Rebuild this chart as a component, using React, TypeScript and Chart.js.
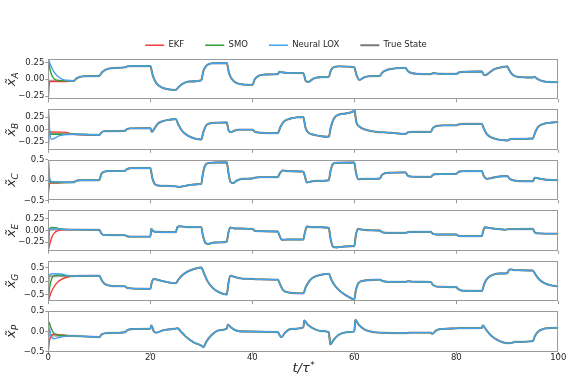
import { useEffect, useRef } from 'react';
import { Chart, registerables } from 'chart.js';

Chart.register(...registerables);

type Pt = [number, number];

// ---- series ----
const seriesNames = ['EKF', 'SMO', 'Neural LOX', 'True State'];
const seriesColors = ['#f43c3c', '#2f9f2f', '#45a2f2', 'rgba(115,115,115,0.6)'];
const legendColors = ['#f43c3c', '#2f9f2f', '#45a2f2', '#7a7a7a'];

// ---- axes ----
const xTicks = [0, 20, 40, 60, 80, 100];
const quarterTicks = [-0.25, 0, 0.25];
const halfTicks = [-0.5, 0, 0.5];
const limA = 0.3;
const limB = 0.4;
const limC = 0.5;
const limE = 0.43;
const limG = 0.75;
const limP = 0.5;

// ---- true state trajectories [t, value] ----
const trueA: Pt[] = [
  [0, -0.025], [5, -0.025], [5.5, 0.01], [6.2, 0.035], [7.5, 0.045], [10, 0.05],
  [10.5, 0.1], [11.2, 0.14], [12.5, 0.165], [15, 0.175], [15.5, 0.19], [16.5, 0.195], [20, 0.195],
  [20.5, 0.05], [21.2, -0.06], [22.5, -0.13], [24, -0.155], [25, -0.16],
  [25.5, -0.12], [26.3, -0.07], [27.5, -0.035], [30, -0.015],
  [30.4, 0.12], [31, 0.2], [32, 0.235], [35, 0.24],
  [35.4, 0.1], [36, 0.0], [37, -0.06], [38.5, -0.08], [40, -0.085],
  [40.5, 0.0], [41.2, 0.05], [42.5, 0.07], [45, 0.075],
  [45.3, 0.11], [46, 0.1], [47, 0.092], [50, 0.09],
  [50.5, -0.03], [51, -0.04], [52, 0.01], [53.5, 0.03], [55, 0.035],
  [55.4, 0.13], [56, 0.18], [57, 0.19], [60, 0.175],
  [60.4, 0.07], [61, -0.01], [62, 0.03], [63.5, 0.045], [65, 0.05],
  [65.5, 0.1], [66.5, 0.14], [68, 0.16], [70, 0.17],
  [70.5, 0.12], [71.3, 0.09], [72.5, 0.08], [75, 0.075],
  [75.4, 0.09], [76.5, 0.082], [80, 0.078],
  [80.5, 0.1], [81.5, 0.11], [85, 0.115],
  [85.3, 0.075], [85.7, 0.06], [86.5, 0.1], [87.5, 0.15], [89, 0.18], [90, 0.19],
  [90.4, 0.13], [91, 0.07], [92, 0.035], [95, 0.025],
  [95.3, 0.035], [96, 0.0], [97, -0.03], [98.5, -0.042], [100, -0.045],
];

const trueB: Pt[] = [
  [0, -0.08], [5, -0.09], [10, -0.105],
  [10.4, -0.06], [11, -0.03], [15, -0.025],
  [15.4, 0.01], [16.2, 0.025], [20, 0.03],
  [20.3, -0.045], [20.8, 0.02], [21.5, 0.12], [22.5, 0.17], [24, 0.2], [25, 0.21],
  [25.5, 0.1], [26.2, -0.02], [27.2, -0.11], [28.5, -0.17], [30, -0.195],
  [30.4, -0.05], [31, 0.09], [32, 0.13], [35, 0.145],
  [35.3, 0.0], [35.8, -0.05], [36.5, -0.02], [37.5, 0.0], [40, 0.0],
  [40.5, -0.04], [41.5, -0.06], [45, -0.07],
  [45.5, 0.05], [46.2, 0.16], [47.5, 0.22], [50, 0.25],
  [50.4, 0.05], [50.8, -0.04], [52, -0.1], [53.5, -0.13], [55, -0.14],
  [55.4, 0.05], [56, 0.22], [57, 0.3], [59.8, 0.36], [60, 0.4],
  [60.4, 0.15], [61, 0.06], [62.5, -0.01], [64, -0.04], [67, -0.06], [70, -0.085],
  [70.5, -0.055], [71.5, -0.045], [75, -0.045],
  [75.4, 0.03], [76, 0.07], [77.5, 0.085], [80, 0.085],
  [80.5, 0.105], [81.5, 0.115], [85, 0.115],
  [85.4, 0.02], [86, -0.09], [87, -0.16], [88.5, -0.2], [90, -0.215],
  [90.5, -0.19], [91.5, -0.18], [95, -0.175],
  [95.4, -0.07], [96, 0.05], [97, 0.11], [98.5, 0.14], [100, 0.15],
];

const trueC: Pt[] = [
  [0, -0.05], [5, -0.055], [5.4, -0.02], [6.2, -0.005], [10, 0.0],
  [10.4, 0.15], [11, 0.21], [12, 0.225], [15, 0.23],
  [15.4, 0.27], [16.2, 0.295], [20, 0.3],
  [20.4, 0.05], [21, -0.11], [22, -0.14], [25, -0.155],
  [25.5, -0.17], [27, -0.14], [28.5, -0.11], [30, -0.09],
  [30.3, 0.15], [30.7, 0.35], [31.3, 0.42], [35, 0.44],
  [35.3, 0.2], [35.7, -0.04], [36.2, -0.075], [37, -0.01], [38, 0.03], [40, 0.04],
  [40.5, 0.06], [41.5, 0.07], [45, 0.075],
  [45.4, 0.17], [46, 0.24], [47, 0.22], [50, 0.21],
  [50.3, 0.1], [50.7, -0.06], [51.3, -0.04], [52.5, -0.02], [55, -0.005],
  [55.3, 0.2], [55.7, 0.38], [56.3, 0.43], [60, 0.435],
  [60.3, 0.2], [60.8, 0.02], [61.5, 0.03], [65, 0.04],
  [65.4, 0.12], [66, 0.17], [67.5, 0.185], [70, 0.19],
  [70.5, 0.11], [71.2, 0.085], [75, 0.08],
  [75.4, 0.13], [76.2, 0.15], [80, 0.155],
  [80.4, 0.2], [81.2, 0.22], [85, 0.225],
  [85.4, 0.1], [86, 0.03], [86.8, 0.05], [88.5, 0.09], [90, 0.1],
  [90.5, 0.03], [91.3, -0.01], [92.5, -0.025], [95, -0.03],
  [95.4, 0.06], [96, 0.045], [97.5, 0.01], [100, 0.0],
];

const trueE: Pt[] = [
  [0, 0.02], [5, 0.02], [10, 0.015],
  [10.4, -0.06], [11, -0.095], [15, -0.1],
  [15.4, -0.12], [16, -0.13], [20, -0.13],
  [20.2, 0.035], [20.6, -0.015], [21.5, -0.03], [25, -0.035],
  [25.3, 0.07], [25.8, 0.09], [27, 0.075], [30, 0.07],
  [30.3, -0.1], [30.8, -0.26], [31.3, -0.285], [32.5, -0.255], [35, -0.235],
  [35.3, -0.05], [35.7, 0.065], [36.5, 0.045], [40, 0.035],
  [40.4, 0.0], [41, -0.015], [45, -0.02],
  [45.3, -0.1], [45.8, -0.195], [47, -0.19], [50, -0.19],
  [50.3, -0.05], [50.7, 0.085], [51.5, 0.075], [55, 0.06],
  [55.3, -0.15], [55.8, -0.34], [56.5, -0.36], [58, -0.34], [60, -0.33],
  [60.3, -0.1], [60.7, 0.035], [61.5, 0.02], [63, 0.005], [65, 0.0],
  [65.5, -0.04], [66.5, -0.05], [70, -0.05],
  [70.5, -0.035], [71.5, -0.03], [75, -0.028],
  [75.4, -0.07], [76.2, -0.085], [80, -0.085],
  [80.4, -0.11], [81.2, -0.12], [85, -0.12],
  [85.3, 0.0], [85.6, 0.07], [86.5, 0.055], [89.5, 0.02], [90.5, 0.03], [95, 0.035],
  [95.4, -0.04], [96, -0.06], [100, -0.065],
];

const trueG: Pt[] = [
  [0, 0.18], [5, 0.18], [6, 0.19], [10, 0.2],
  [10.4, 0.05], [11, -0.1], [12, -0.17], [13.5, -0.195], [15, -0.2],
  [15.4, -0.25], [16.2, -0.275], [20, -0.29],
  [20.3, -0.05], [20.7, 0.08], [21.5, 0.04], [23, -0.03], [25, -0.08],
  [25.5, 0.05], [26.3, 0.22], [27.3, 0.35], [28.5, 0.44], [30, 0.5],
  [30.5, 0.3], [31.2, 0.0], [32.2, -0.25], [33.5, -0.42], [35, -0.5],
  [35.3, -0.1], [35.7, 0.2], [36.5, 0.15], [38, 0.09], [40, 0.08],
  [41, 0.06], [45, 0.05],
  [45.4, -0.1], [46, -0.33], [47, -0.42], [50, -0.46],
  [50.5, -0.22], [51.2, 0.0], [52, 0.14], [53.5, 0.23], [55, 0.27],
  [55.5, 0.05], [56.3, -0.2], [57.5, -0.42], [59, -0.6], [60, -0.68],
  [60.3, -0.35], [60.8, -0.08], [61.8, 0.01], [63.5, 0.04], [65, 0.05],
  [65.5, 0.0], [66.5, -0.03], [70, -0.035], [70.5, -0.01], [71.5, -0.025], [75, -0.04],
  [75.4, -0.14], [76.2, -0.21], [80, -0.23],
  [80.4, -0.3], [81.2, -0.36], [85, -0.37],
  [85.5, -0.1], [86.2, 0.12], [87.3, 0.24], [88.5, 0.28], [90, 0.29],
  [90.3, 0.4], [90.7, 0.43], [91.5, 0.4], [95, 0.39],
  [95.5, 0.25], [96.3, 0.05], [97.5, -0.1], [98.8, -0.17], [100, -0.2],
];

const trueP: Pt[] = [
  [0, -0.1], [5, -0.11], [10, -0.14],
  [10.5, -0.07], [11.5, -0.04], [15, -0.02],
  [15.5, 0.03], [16.5, 0.06], [20, 0.07],
  [20.2, 0.15], [20.7, 0.0], [21.2, -0.03], [22.5, 0.03], [25, 0.07],
  [25.3, 0.08], [26, 0.0], [27, -0.13], [28.5, -0.27], [30, -0.35],
  [30.4, -0.39], [31, -0.25], [32, -0.09], [33.5, 0.03], [35, 0.07],
  [35.2, 0.17], [35.8, 0.1], [36.7, 0.03], [38, 0.0], [45, -0.015],
  [45.3, -0.08], [45.7, -0.14], [46.5, -0.02], [47.5, 0.06], [50, 0.1],
  [50.2, 0.27], [50.8, 0.18], [52, 0.07], [53.5, 0.01], [55, -0.02],
  [55.3, -0.32], [56, -0.2], [57, -0.08], [58.5, -0.02], [60, 0.0],
  [60.2, 0.29], [60.8, 0.18], [62, 0.05], [63.5, -0.01], [65, -0.03],
  [70, -0.04], [71, -0.03], [75, -0.03],
  [75.3, -0.06], [76, 0.02], [77, 0.06], [80, 0.075],
  [80.5, 0.08], [85, 0.085],
  [85.2, 0.15], [85.8, 0.05], [86.8, -0.1], [88.2, -0.22], [90, -0.29],
  [90.5, -0.29], [91.5, -0.26], [95, -0.24],
  [95.4, -0.12], [96, -0.01], [97, 0.06], [98.5, 0.085], [100, 0.09],
];

// ---- estimator start-up transients; afterwards each estimate rides on the true state ----
const ekfHeadA: Pt[] = [[0, -0.3], [0.25, -0.035], [3.2, -0.035], [4.5, -0.027], [5, -0.025]];
const smoHeadA: Pt[] = [[0, 0.3], [0.35, 0.14], [0.8, 0.04], [1.5, -0.01], [2.5, -0.022], [5, -0.025]];
const loxHeadA: Pt[] = [[0, 0.3], [0.5, 0.2], [1.1, 0.11], [1.9, 0.04], [2.9, -0.005], [4, -0.02], [5, -0.025]];

const ekfHeadB: Pt[] = [[0, -0.4], [0.2, -0.045], [3.2, -0.05], [4.2, -0.075], [5, -0.09]];
const smoHeadB: Pt[] = [[0, 0.4], [0.25, -0.04], [0.6, -0.09], [2, -0.09], [5, -0.09]];
const loxHeadB: Pt[] = [[0, 0.4], [0.3, -0.05], [0.6, -0.19], [1.2, -0.17], [2.2, -0.12], [3.5, -0.095], [5, -0.09]];

const ekfHeadC: Pt[] = [[0, -0.35], [0.3, -0.07], [2, -0.07], [3.5, -0.057], [5, -0.055]];
const smoHeadC: Pt[] = [[0, 0.5], [0.3, -0.02], [0.8, -0.06], [2.5, -0.06], [5, -0.055]];
const loxHeadC: Pt[] = [[0, 0.5], [0.25, 0.05], [0.6, -0.03], [1.5, -0.045], [3, -0.05], [5, -0.055]];

const ekfHeadE: Pt[] = [[0, -0.42], [0.3, -0.28], [0.7, -0.14], [1.2, -0.05], [2, 0.0], [3, 0.015], [5, 0.02]];
const smoHeadE: Pt[] = [[0, -0.3], [0.3, 0.05], [0.8, 0.065], [2, 0.045], [3.5, 0.025], [5, 0.02]];
const loxHeadE: Pt[] = [[0, -0.42], [0.15, -0.1], [0.35, 0.03], [1.5, 0.035], [3, 0.025], [5, 0.02]];

const ekfHeadG: Pt[] = [[0, -0.75], [0.5, -0.45], [1, -0.25], [1.7, -0.07], [2.5, 0.05], [3.5, 0.13], [4.5, 0.17], [6, 0.19]];
const smoHeadG: Pt[] = [[0, -0.75], [0.3, -0.2], [0.7, 0.1], [1.2, 0.2], [2, 0.22], [3, 0.2], [5, 0.18]];
const loxHeadG: Pt[] = [[0, -0.75], [0.15, 0.1], [0.35, 0.25], [1, 0.27], [2.5, 0.26], [3.5, 0.22], [5, 0.18]];

const ekfHeadP: Pt[] = [[0, -0.5], [0.2, -0.25], [0.5, -0.12], [1, -0.07], [2, -0.08], [3.5, -0.1], [5, -0.11]];
const smoHeadP: Pt[] = [[0, 0.05], [0.15, 0.23], [0.5, 0.1], [1, -0.03], [1.8, -0.09], [3, -0.1], [5, -0.11]];
const loxHeadP: Pt[] = [[0, -0.5], [0.15, 0.1], [0.5, -0.1], [1.1, -0.18], [2, -0.15], [3.5, -0.115], [5, -0.11]];

const panels = [
  { sub: 'A', lim: limA, ticks: quarterTicks, digits: 2, truth: trueA, heads: [ekfHeadA, smoHeadA, loxHeadA] },
  { sub: 'B', lim: limB, ticks: quarterTicks, digits: 2, truth: trueB, heads: [ekfHeadB, smoHeadB, loxHeadB] },
  { sub: 'C', lim: limC, ticks: halfTicks, digits: 1, truth: trueC, heads: [ekfHeadC, smoHeadC, loxHeadC] },
  { sub: 'E', lim: limE, ticks: quarterTicks, digits: 2, truth: trueE, heads: [ekfHeadE, smoHeadE, loxHeadE] },
  { sub: 'G', lim: limG, ticks: halfTicks, digits: 1, truth: trueG, heads: [ekfHeadG, smoHeadG, loxHeadG] },
  { sub: 'P', lim: limP, ticks: halfTicks, digits: 1, truth: trueP, heads: [ekfHeadP, smoHeadP, loxHeadP] },
];

// ---- layout ----
const FIG_W = 572;
const FIG_H = 381;
const PLOT_LEFT = 48.3;
const PLOT_RIGHT = 558.3;
const PANEL_TOP = 59;
const PANEL_STEP = 50.45;
const PANEL_H = 40.4;
const LEGEND_TOP = 20;
const LEGEND_H = 120;
const SPINE = '#9a9a9a';
const TEXT = '#262626';
const FONT = 'DejaVu Sans';

const withHead = (head: Pt[], truth: Pt[]): Pt[] => {
  const tEnd = head[head.length - 1][0];
  return head.concat(truth.filter(([t]) => t > tEnd));
};
const xy = (pts: Pt[]) => pts.map(([x, y]) => ({ x, y }));
const fmt = (v: number, digits: number) => {
  const s = Math.abs(v).toFixed(digits);
  return v < 0 ? '\u2212' + s : s;
};

// panel frame, rotated state label and time label
const frameLabels = {
  id: 'frameLabels',
  afterDatasetsDraw(chart: any, _args: any, opts: any) {
    const { ctx, chartArea: a } = chart;
    ctx.save();
    const l = Math.round(a.left) + 0.5;
    const r = Math.round(a.right) - 0.5;
    const t = Math.round(a.top) + 0.5;
    const b = Math.round(a.bottom) - 0.5;
    ctx.strokeStyle = SPINE;
    ctx.lineWidth = 1;
    ctx.strokeRect(l, t, r - l, b - t);

    ctx.fillStyle = TEXT;
    ctx.textBaseline = 'alphabetic';
    ctx.textAlign = 'left';

    // state label: x-tilde with subscript, rotated
    const mainFont = `italic 13px "${FONT}"`;
    const subFont = `italic 9px "${FONT}"`;
    const main = 'x\u0303';
    ctx.save();
    ctx.translate(opts.labelX, (a.top + a.bottom) / 2);
    ctx.rotate(-Math.PI / 2);
    ctx.font = mainFont;
    const w1 = ctx.measureText(main).width;
    ctx.font = subFont;
    const w2 = ctx.measureText(opts.sub).width;
    const x0 = -(w1 + w2) / 2;
    ctx.font = mainFont;
    ctx.fillText(main, x0, 0);
    ctx.font = subFont;
    ctx.fillText(opts.sub, x0 + w1, 3);
    ctx.restore();

    if (opts.timeLabel) {
      ctx.font = mainFont;
      const m = 't/\u03c4';
      const tw = ctx.measureText(m).width;
      ctx.font = subFont;
      const sw = ctx.measureText('*').width;
      const cx = (a.left + a.right) / 2 - (tw + sw) / 2;
      const base = a.bottom + 20.5;
      ctx.font = mainFont;
      ctx.fillText(m, cx, base);
      ctx.font = subFont;
      ctx.fillText('*', cx + tw + 0.5, base - 4.5);
    }
    ctx.restore();
  },
};

function StatePanel({ index }: { index: number }) {
  const ref = useRef<HTMLCanvasElement>(null);
  const p = panels[index];
  const last = index === panels.length - 1;
  const top = PANEL_TOP + index * PANEL_STEP;
  const bottom = top + PANEL_H;
  const canvasTop = Math.floor(top) - 8;
  const canvasH = last ? FIG_H - canvasTop : Math.ceil(bottom) + 8 - canvasTop;
  const padTop = top - canvasTop;
  const xAxisH = last ? canvasH - (bottom - canvasTop) : 4;
  const padBottom = last ? 0 : canvasH - (bottom - canvasTop) - xAxisH;

  useEffect(() => {
    const tickFont = { family: FONT, size: 8.5, lineHeight: 1 };
    const estimates = p.heads.map((head, k) => ({
      label: seriesNames[k],
      data: xy(withHead(head, p.truth)),
      borderColor: seriesColors[k],
      borderWidth: 1.4,
      order: 3 - k,
    }));
    const chart = new Chart(ref.current as HTMLCanvasElement, {
      type: 'line',
      data: {
        datasets: [
          ...estimates,
          { label: seriesNames[3], data: xy(p.truth), borderColor: seriesColors[3], borderWidth: 2.2, order: 4 },
        ],
      },
      options: {
        responsive: false,
        animation: false,
        events: [],
        layout: { padding: { left: 0, right: FIG_W - PLOT_RIGHT, top: padTop, bottom: padBottom } },
        elements: {
          point: { radius: 0 },
          line: { cubicInterpolationMode: 'monotone', fill: false },
        },
        plugins: {
          legend: { display: false },
          tooltip: { enabled: false },
          frameLabels: { sub: p.sub, labelX: 15, timeLabel: last },
        } as any,
        scales: {
          x: {
            type: 'linear',
            min: 0,
            max: 100,
            afterBuildTicks: (s: any) => {
              s.ticks = xTicks.map((v) => ({ value: v }));
            },
            afterFit: (s: any) => {
              s.height = xAxisH;
            },
            grid: { drawOnChartArea: false, drawTicks: true, tickLength: 3, color: SPINE },
            border: { display: false },
            ticks: {
              display: last,
              autoSkip: false,
              maxRotation: 0,
              padding: -1,
              font: tickFont,
              color: TEXT,
              callback: (v: any) => String(v),
            },
          },
          y: {
            type: 'linear',
            min: -p.lim,
            max: p.lim,
            afterBuildTicks: (s: any) => {
              s.ticks = p.ticks.map((v) => ({ value: v }));
            },
            afterFit: (s: any) => {
              s.width = PLOT_LEFT;
            },
            grid: { drawOnChartArea: false, drawTicks: true, tickLength: 3, color: SPINE },
            border: { display: false },
            ticks: {
              autoSkip: false,
              padding: 1,
              font: tickFont,
              color: TEXT,
              callback: (v: any) => fmt(Number(v), p.digits),
            },
          },
        },
      } as any,
      plugins: [frameLabels],
    });
    return () => chart.destroy();
  }, []);

  return (
    <canvas
      ref={ref}
      width={FIG_W}
      height={canvasH}
      style={{ position: 'absolute', left: 0, top: canvasTop, width: FIG_W, height: canvasH }}
    />
  );
}

function Legend() {
  const ref = useRef<HTMLCanvasElement>(null);
  useEffect(() => {
    const chart = new Chart(ref.current as HTMLCanvasElement, {
      type: 'line',
      data: {
        datasets: seriesNames.map((name, k) => ({
          label: name,
          data: [],
          borderColor: legendColors[k],
          borderWidth: k === 3 ? 2 : 1.4,
        })),
      },
      options: {
        responsive: false,
        animation: false,
        events: [],
        scales: { x: { display: false }, y: { display: false } },
        plugins: {
          tooltip: { enabled: false },
          legend: {
            display: true,
            position: 'top',
            align: 'center',
            labels: {
              usePointStyle: true,
              pointStyle: 'line',
              pointStyleWidth: 19,
              padding: 21,
              color: TEXT,
              font: { family: FONT, size: 8.5 },
            },
          },
        },
      } as any,
    });
    return () => chart.destroy();
  }, []);
  return (
    <canvas
      ref={ref}
      width={FIG_W}
      height={LEGEND_H}
      style={{ position: 'absolute', left: 0, top: LEGEND_TOP, width: FIG_W, height: LEGEND_H }}
    />
  );
}

export default function App() {
  return (
    <div style={{ position: 'absolute', left: 0, top: 0, width: FIG_W, height: FIG_H, background: '#fff' }}>
      <Legend />
      {panels.map((_, i) => (
        <StatePanel key={i} index={i} />
      ))}
    </div>
  );
}
